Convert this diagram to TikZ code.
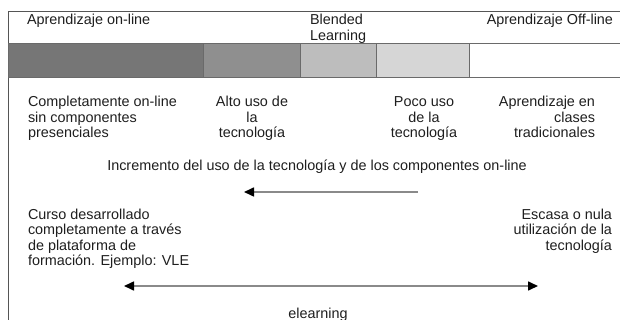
\documentclass[tikz,border=0pt]{standalone}
\usepackage{fontspec}
\setmainfont{Liberation Sans}
\usetikzlibrary{arrows.meta}

\definecolor{segdark}{HTML}{767676}
\definecolor{segmid}{HTML}{8F8F8F}
\definecolor{seglight}{HTML}{BDBDBD}
\definecolor{segpale}{HTML}{D6D6D6}
\definecolor{segline}{HTML}{6A6A6A}
\definecolor{rulegray}{HTML}{555555}
\definecolor{txtgray}{HTML}{1E1E1E}
\definecolor{arrgray}{HTML}{8A8A8A}

\begin{document}
\begin{tikzpicture}[x=1pt, y=-1pt,
    every node/.style={font=\fontsize{14.4}{15.5}\selectfont, inner sep=0pt, outer sep=0pt, text=txtgray},
    seg/.style={draw=segline, line width=1pt, anchor=north west, minimum height=34pt},
    arr/.style={draw=arrgray, line width=1.6pt, -{Triangle[length=10pt,width=9pt,color=black]}},
    darr/.style={draw=arrgray, line width=1.6pt, {Triangle[length=10pt,width=9pt,color=black]}-{Triangle[length=10pt,width=9pt,color=black]}}
  ]
  \useasboundingbox (0,0) rectangle (620,320);

  % frame
  \draw[rulegray, line width=1pt] (8.5,320) -- (8.5,12) -- (621,12);

  % bar
  \node[seg, fill=segdark, minimum width=195pt] (online) at (8.5,44) {};
  \node[seg, fill=segmid, minimum width=97pt] (altouso) at (online.north east) {};
  \node[seg, fill=seglight, minimum width=76pt] (blended) at (altouso.north east) {};
  \node[seg, fill=segpale, minimum width=93pt] (pocouso) at (blended.north east) {};
  \node[seg, fill=white, minimum width=160pt] (offline) at (pocouso.north east) {};

  % headings (multi-line nodes sit on their last baseline)
  \node[anchor=base west] (tonline) at (27,25) {Aprendizaje on-line};
  \node[anchor=base west, align=left] (tblended) at (310,40.5) {Blended\\Learning};
  \node[anchor=base east] (toffline) at (613,25) {Aprendizaje Off-line};

  % levels
  \node[anchor=base west, align=left] (lcompleto) at (28,138) {Completamente on-line\\sin componentes\\presenciales};
  \node[anchor=base, align=center] (lalto) at (252,138) {Alto uso de\\la\\tecnología};
  \node[anchor=base, align=center] (lpoco) at (424,138) {Poco uso\\de la\\tecnología};
  \node[anchor=base east, align=right] (lclases) at (595,138) {Aprendizaje en\\clases\\tradicionales};

  \node[anchor=base] (incremento) at (317,171) {Incremento del uso de la tecnología y de los componentes on-line};
  \coordinate (incfrom) at (418,192);
  \coordinate (incto) at (244,192);
  \draw[arr] (incfrom) -- (incto);

  % extremes
  \node[anchor=base west, align=left] (curso) at (28,265.5) {Curso desarrollado\\completamente a través\\de plataforma de\\formación. Ejemplo: VLE};
  \node[anchor=base east, align=right] (escasa) at (612,250) {Escasa o nula\\utilización de la\\tecnología};

  \coordinate (elleft) at (124,286);
  \coordinate (elright) at (538,286);
  \draw[darr] (elleft) -- (elright);
  \node[anchor=base] (elearning) at (318,318) {elearning};
\end{tikzpicture}
\end{document}
